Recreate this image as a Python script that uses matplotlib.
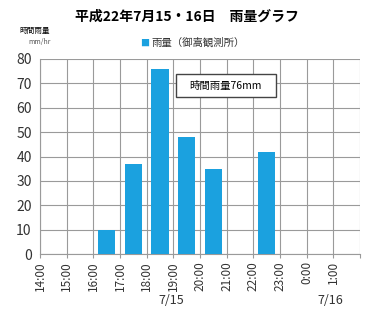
import matplotlib
matplotlib.use("Agg")
import matplotlib.pyplot as plt
from matplotlib.patches import Rectangle

plt.rcParams['font.family'] = ['Noto Sans CJK JP', 'DejaVu Sans']

# hourly rainfall (mm/hr), bar for hour starting at each label
hours = [14, 15, 16, 17, 18, 19, 20, 21, 22, 23, 24, 25]
tick_labels = ["14:00", "15:00", "16:00", "17:00", "18:00", "19:00",
               "20:00", "21:00", "22:00", "23:00", "0:00", "1:00"]
rain = [0, 0, 10, 37, 76, 48, 35, 0, 42, 0, 0, 0]

fig = plt.figure(figsize=(3.75, 3.12), dpi=100)
ax = fig.add_axes([40 / 375, 1 - 254 / 312, 320 / 375, 195 / 312])

ax.bar([h + 0.5 for h in hours], rain, width=0.65, color="#1ba1df",
       zorder=3)
ax.set_xlim(14, 26)
ax.set_ylim(0, 80)
ax.set_yticks(range(0, 81, 10))
ax.set_xticks(hours + [26])
ax.set_xticklabels(tick_labels + [""], rotation=90, fontsize=8.5,
                   color="#333333")
ax.tick_params(axis="y", labelsize=10, length=0, pad=6, colors="#333333")
ax.tick_params(axis="x", length=3, color="#999999", pad=2)
ax.grid(True, color="#9a9a9a", linewidth=0.8, zorder=0)
for s in ["top", "right"]:
    ax.spines[s].set_visible(False)
for s in ["left", "bottom"]:
    ax.spines[s].set_color("#9a9a9a")

fig.text(187 / 375, 1 - 17 / 312, "平成22年7月15・16日　雨量グラフ",
         ha="center", va="center", fontsize=10, fontweight="bold")
fig.text(35 / 375, 1 - 31 / 312, "時間雨量", ha="center", va="center",
         fontsize=5.5)
fig.text(40 / 375, 1 - 42 / 312, "mm/hr", ha="center", va="center",
         fontsize=5, color="#555555")
fig.text(145 / 375, 1 - 43 / 312, "■", ha="center", va="center",
         fontsize=6.5, color="#1ba1df")
fig.text(151 / 375, 1 - 43 / 312, "雨量（御嵩観測所）", ha="left",
         va="center", fontsize=7.5, color="#333333")

ax.add_patch(Rectangle((19.1, 64.4), 3.75, 9.4, fc="white", ec="#444444",
                       lw=1.0, zorder=5))
ax.text(20.97, 69.1, "時間雨量76mm", ha="center", va="center",
        fontsize=7.5, zorder=6)

fig.text(171 / 375, 1 - 300 / 312, "7/15", ha="center", va="center",
         fontsize=9, color="#333333")
fig.text(330 / 375, 1 - 300 / 312, "7/16", ha="center", va="center",
         fontsize=9, color="#333333")

fig.savefig("out.png", dpi=100)
